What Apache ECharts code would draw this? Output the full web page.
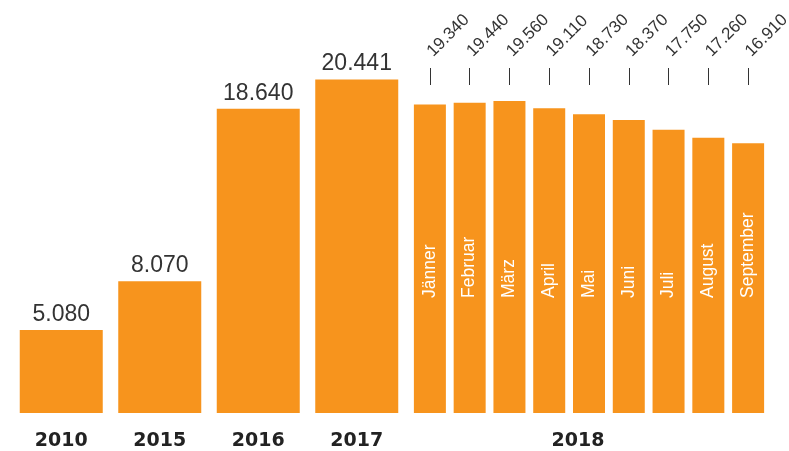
<!DOCTYPE html>
<html>
<head>
<meta charset="utf-8">
<script src="https://cdn.jsdelivr.net/npm/echarts@6/dist/echarts.min.js"></script>
<style>html,body{margin:0;padding:0;background:#fff}#c{width:789px;height:451px}</style>
</head>
<body>
<div id="c"></div>
<script>
var yearCategories = ['2010', '2015', '2016', '2017'];
var yearValues = [5080, 8070, 18640, 20441];
var monthCategories = ['Jänner', 'Februar', 'März', 'April', 'Mai', 'Juni', 'Juli', 'August', 'September'];
var monthValues = [19340, 19440, 19560, 19110, 18730, 18370, 17750, 17260, 16910];
var monthGroupLabel = '2018';

function fmt(v) {
  return String(v).replace(/\B(?=(\d{3})+(?!\d))/g, '.');
}

var orange = '#F7941D';
var dark = '#333333';

var chart = echarts.init(document.getElementById('c'), null, { renderer: 'canvas' });
chart.setOption({
  animation: false,
  backgroundColor: '#ffffff',
  grid: [
    { left: 12, width: 394, top: 5, bottom: 38, containLabel: false, outerBoundsMode: 'none' },
    { left: 410, width: 358, top: 85, bottom: 38, containLabel: false, outerBoundsMode: 'none' }
  ],
  xAxis: [
    {
      type: 'category', gridIndex: 0, data: yearCategories,
      axisLine: { show: false }, axisTick: { show: false },
      axisLabel: { margin: 19, fontFamily: 'DejaVu Sans', fontWeight: 'bold', fontSize: 19, color: '#222' }
    },
    {
      type: 'category', gridIndex: 1, data: monthCategories,
      axisLine: { show: false }, axisTick: { show: false },
      axisLabel: {
        margin: 19, fontFamily: 'DejaVu Sans', fontWeight: 'bold', fontSize: 19, color: '#222',
        interval: function (i) { return i === Math.floor(monthCategories.length / 2); },
        formatter: function () { return monthGroupLabel; },
        padding: [0, 22, 0, 0]
      }
    },
    {
      type: 'category', gridIndex: 1, position: 'top', data: monthValues.map(fmt),
      axisLine: { show: false },
      axisTick: { show: true, alignWithLabel: true, length: 17, lineStyle: { color: dark, width: 1 } },
      axisLabel: { rotate: -45, margin: 31, fontFamily: 'Liberation Sans', fontSize: 17, color: dark, interval: 0, hideOverlap: false }
    }
  ],
  yAxis: [
    { type: 'value', gridIndex: 0, min: 0, max: 25000, show: false, splitLine: { show: false } },
    { type: 'value', gridIndex: 1, min: 0, max: 20560, show: false, splitLine: { show: false } }
  ],
  series: [
    {
      type: 'bar', xAxisIndex: 0, yAxisIndex: 0, data: yearValues, barWidth: 83,
      itemStyle: { color: orange },
      label: {
        show: true, position: 'top', distance: 4, fontFamily: 'Liberation Sans', fontSize: 23, color: dark,
        formatter: function (p) { return fmt(p.value); }
      }
    },
    {
      type: 'bar', xAxisIndex: 1, yAxisIndex: 1, data: monthValues, barWidth: 32,
      itemStyle: { color: orange },
      label: {
        show: true, position: 'insideBottom', distance: 115, rotate: 90, align: 'left', verticalAlign: 'middle',
        fontFamily: 'Liberation Sans', fontSize: 17.5, color: '#ffffff', formatter: '{b}'
      }
    }
  ]
});
</script>
</body>
</html>
